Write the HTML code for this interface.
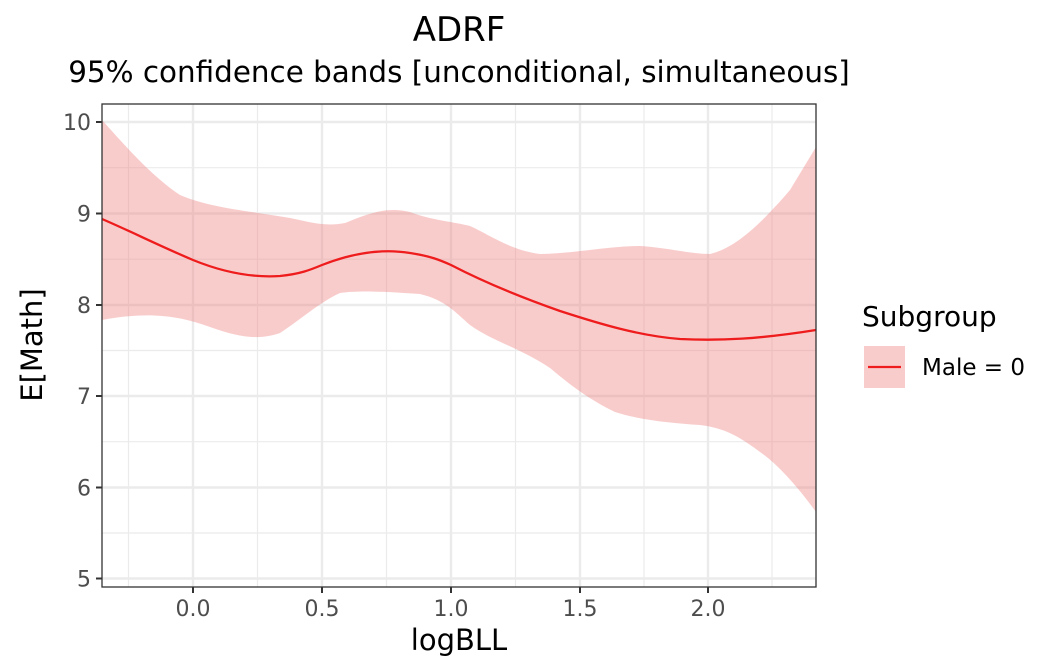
<!DOCTYPE html>
<html><head><style>body{margin:0;background:#fff}svg{display:block}</style></head><body>
<svg width="1056" height="672" xmlns="http://www.w3.org/2000/svg" font-family="DejaVu Sans, Liberation Sans, sans-serif">
<rect width="1056" height="672" fill="#fff"/>
<g stroke="#ebebeb" stroke-width="1.2">
<line x1="102" x2="816" y1="167.7" y2="167.7"/><line x1="102" x2="816" y1="259.2" y2="259.2"/><line x1="102" x2="816" y1="350.5" y2="350.5"/><line x1="102" x2="816" y1="441.7" y2="441.7"/><line x1="102" x2="816" y1="533" y2="533"/>
<line y1="104" y2="587" x1="128.5" x2="128.5"/><line y1="104" y2="587" x1="257.5" x2="257.5"/><line y1="104" y2="587" x1="386.5" x2="386.5"/><line y1="104" y2="587" x1="515.5" x2="515.5"/><line y1="104" y2="587" x1="644" x2="644"/><line y1="104" y2="587" x1="772" x2="772"/>
</g>
<g stroke="#ebebeb" stroke-width="2.4">
<line x1="102" x2="816" y1="122" y2="122"/><line x1="102" x2="816" y1="213.5" y2="213.5"/><line x1="102" x2="816" y1="305" y2="305"/><line x1="102" x2="816" y1="396" y2="396"/><line x1="102" x2="816" y1="487.5" y2="487.5"/><line x1="102" x2="816" y1="578.5" y2="578.5"/>
<line y1="104" y2="587" x1="193" x2="193"/><line y1="104" y2="587" x1="322" x2="322"/><line y1="104" y2="587" x1="451" x2="451"/><line y1="104" y2="587" x1="580" x2="580"/><line y1="104" y2="587" x1="708" x2="708"/>
</g>
<path fill="#f08080" fill-opacity="0.4" d="M102,120 C120,140 150,175 180,195 C210,208 250,211 290,218 C310,222 325,227 345,223 C365,215 385,206 410,212 C430,220 455,222 470,226 C490,235 510,250 540,254 C570,254 610,246 640,246 C670,248 690,254 710,254 C735,248 760,225 790,190 L816,147 L816,512 C800,490 780,466 760,452 C740,437 725,428 700,425 C670,423 640,420 615,412 C590,400 570,385 550,368 C520,348 490,340 470,325 C455,312 445,300 420,294 C390,292 360,290 340,293 C320,302 300,320 280,333 C260,340 240,338 210,327 C180,316 150,311 102,320 Z"/>
<path fill="none" stroke="#ee1c1c" stroke-width="2.3" d="M102,219 C130,231 160,246 193,260 C220,271 250,278 280,276 C300,274 310,270 322,265 C350,254 380,248 410,253 C430,256 440,260 451,265 C480,280 520,297 560,311 C600,324 640,336 680,339 C720,341 760,339 816,330"/>
<rect x="102" y="104" width="714" height="483" fill="none" stroke="#333" stroke-width="1.3"/>
<g stroke="#333" stroke-width="2">
<line x1="96" x2="102" y1="122" y2="122"/><line x1="96" x2="102" y1="213.5" y2="213.5"/><line x1="96" x2="102" y1="305" y2="305"/><line x1="96" x2="102" y1="396" y2="396"/><line x1="96" x2="102" y1="487.5" y2="487.5"/><line x1="96" x2="102" y1="578.5" y2="578.5"/>
<line y1="587" y2="593" x1="193" x2="193"/><line y1="587" y2="593" x1="322" x2="322"/><line y1="587" y2="593" x1="451" x2="451"/><line y1="587" y2="593" x1="580" x2="580"/><line y1="587" y2="593" x1="708" x2="708"/>
</g>
<g fill="#4d4d4d" font-size="22" text-anchor="end">
<text x="91" y="130">10</text><text x="91" y="221.5">9</text><text x="91" y="313">8</text><text x="91" y="404">7</text><text x="91" y="495.5">6</text><text x="91" y="586.5">5</text>
</g>
<g fill="#4d4d4d" font-size="22" text-anchor="middle">
<text x="193" y="616">0.0</text><text x="322" y="616">0.5</text><text x="451" y="616">1.0</text><text x="580" y="616">1.5</text><text x="708" y="616">2.0</text>
</g>
<text x="459" y="650" font-size="29" text-anchor="middle">logBLL</text>
<text transform="translate(42,345) rotate(-90)" font-size="29" text-anchor="middle">E[Math]</text>
<text x="459" y="41" font-size="34" text-anchor="middle">ADRF</text>
<text x="459" y="82" font-size="29.4" text-anchor="middle">95% confidence bands [unconditional, simultaneous]</text>
<text x="862" y="326" font-size="28">Subgroup</text>
<rect x="864" y="346" width="41" height="42" fill="#f08080" fill-opacity="0.4"/>
<line x1="868" x2="901" y1="367" y2="367" stroke="#ee1c1c" stroke-width="2.3"/>
<text x="922" y="375" font-size="23">Male = 0</text>
</svg>
</body></html>
